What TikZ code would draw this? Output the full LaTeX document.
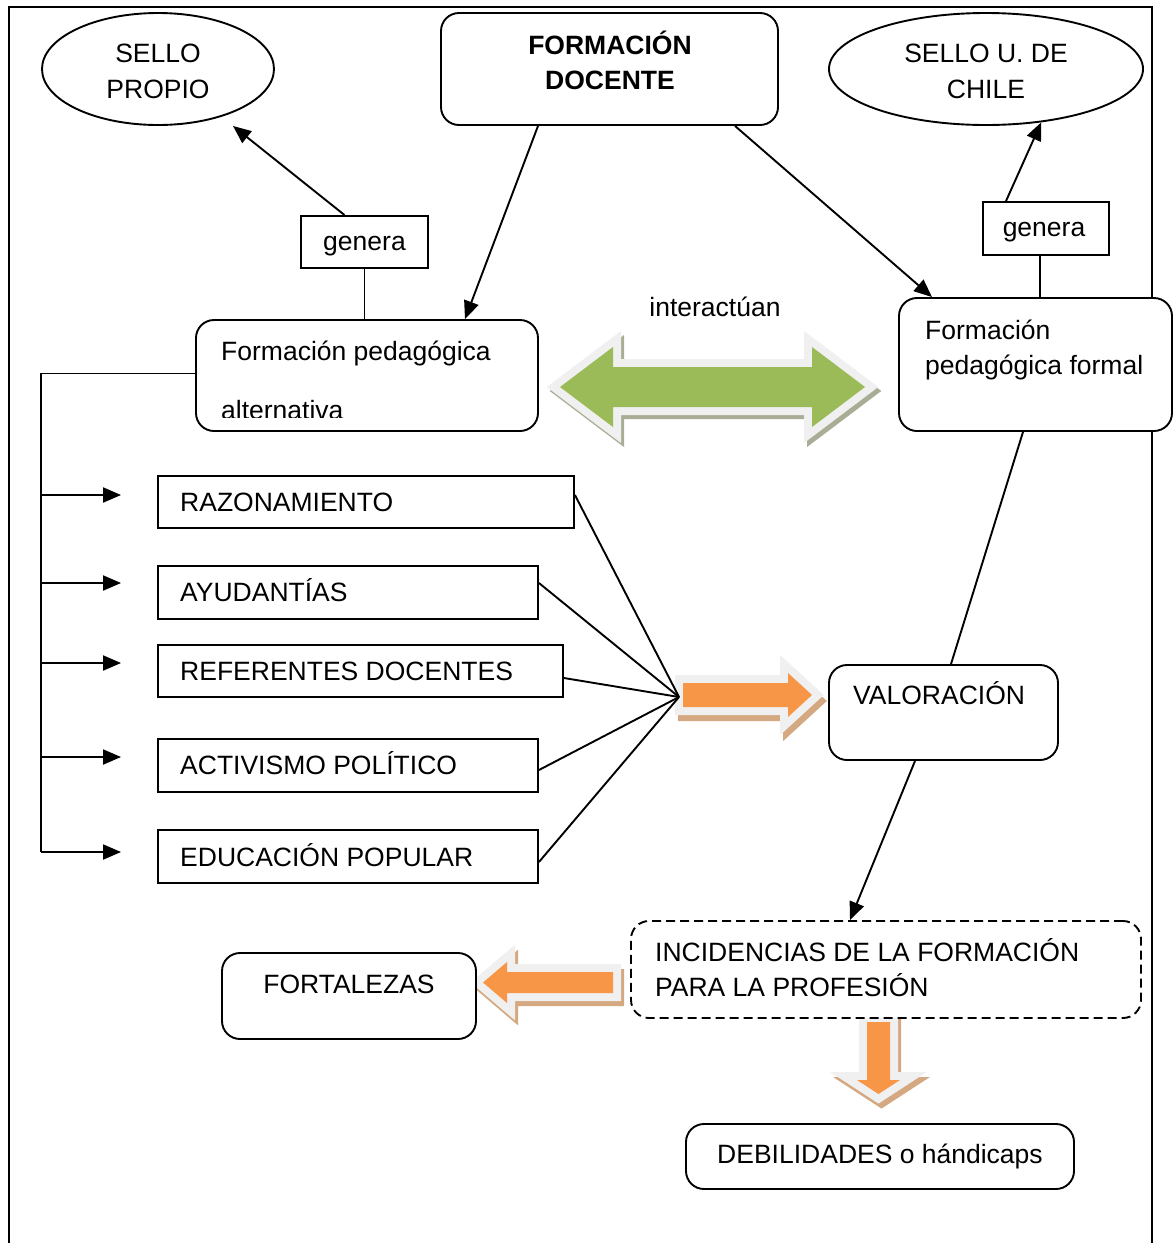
\documentclass[tikz,border=0pt]{standalone}
\usepackage{fontspec}
\setmainfont{Liberation Sans}
\usetikzlibrary{calc,shapes.geometric,arrows.meta}

\definecolor{arrgreen}{RGB}{155,187,89}
\definecolor{arrorange}{RGB}{247,150,70}
\definecolor{glow}{RGB}{240,240,240}
\definecolor{greenshadow}{RGB}{168,173,150}
\definecolor{orangeshadow}{RGB}{212,168,128}

\tikzset{
  every node/.style={font=\fontsize{26.5}{31}\selectfont, inner sep=0pt},
  rbox/.style={draw, fill=white, line width=1.9pt, rounded corners=18pt},
  sbox/.style={draw, fill=white, line width=1.9pt},
  oval/.style={draw, fill=white, ellipse, line width=1.9pt},
  link/.style={line width=1.9pt},
  arr/.style={line width=1.9pt, -{Triangle[length=18pt,width=15pt]}},
  lbl/.style={anchor=base west},
  clbl/.style={anchor=base},
  glowline/.style={line width=16pt, line join=miter, miter limit=10},
  % block arrow outlines
  greenarrow/.style={insert path={(560,387) -- (613,347) -- (613,367) -- (812,367) -- (812,347) -- (865,387) -- (812,427) -- (812,407) -- (613,407) -- (613,427) -- cycle}},
  rightarrow/.style={insert path={(683,683) -- (788,683) -- (788,673) -- (812,695) -- (788,717) -- (788,707) -- (683,707) -- cycle}},
  leftarrow/.style={insert path={(483,982.5) -- (507,962) -- (507,972) -- (613,972) -- (613,993) -- (507,993) -- (507,1003) -- cycle}},
  downarrow/.style={insert path={(867,1022) -- (890,1022) -- (890,1080) -- (900,1080) -- (878.5,1094) -- (857,1080) -- (867,1080) -- cycle}},
}

\begin{document}
\begin{tikzpicture}[x=1pt,y=-1pt]
\useasboundingbox (0,0) rectangle (1174,1243);

% outer frame, open at the bottom
\draw[line width=1.9pt] (9,1243) -- (9,7) -- (1152,7) -- (1152,1243);

% block arrows: shadow, light outline, coloured body
\filldraw[greenshadow, glowline, shift={(3,4)}, greenarrow];
\filldraw[glow, glowline, greenarrow];
\fill[arrgreen, greenarrow];

\filldraw[orangeshadow, glowline, shift={(3,6)}, rightarrow];
\filldraw[glow, glowline, rightarrow];
\fill[arrorange, rightarrow];

\filldraw[orangeshadow, glowline, shift={(3,5)}, leftarrow];
\filldraw[glow, glowline, leftarrow];
\fill[arrorange, leftarrow];

\filldraw[orangeshadow, glowline, shift={(3,5)}, downarrow];
\filldraw[glow, glowline, downarrow];
\fill[arrorange, downarrow];

% top row
\node[oval, minimum width=232pt, minimum height=112pt] (sp) at (158,69) {};
\node[clbl] (sp1) at (158,62.5) {SELLO};
\node[clbl] (sp2) at (158,98.5) {PROPIO};

\node[rbox, minimum width=337pt, minimum height=112pt] (fd) at (609.5,69) {};
\node[clbl, font=\fontsize{26.5}{31}\selectfont\bfseries] (fd1) at (610,54.5) {FORMACIÓN};
\node[clbl, font=\fontsize{26.5}{31}\selectfont\bfseries] (fd2) at (610,89.5) {DOCENTE};

\node[oval, minimum width=314pt, minimum height=112pt] (su) at (986,69) {};
\node[clbl] (su1) at (986,62.5) {SELLO U. DE};
\node[clbl] (su2) at (986,98.5) {CHILE};

% "genera" labels
\node[sbox, minimum width=127pt, minimum height=52pt] (g1) at (364.5,242) {};
\node[clbl] (g1t) at (364.5,250) {genera};
\node[sbox, minimum width=126pt, minimum height=53pt] (g2) at (1046,228.5) {};
\node[clbl] (g2t) at (1044,236) {genera};

% the two kinds of training
\node[rbox, minimum width=342pt, minimum height=111pt] (fa) at (367,375.5) {};
\node[lbl] (fa1) at (221,360) {Formación pedagógica};
\begin{scope}
  \clip (196,320) rectangle (538,417);
  \node[lbl] (fa2) at (221,419) {alternativa};
\end{scope}

\node[rbox, minimum width=273pt, minimum height=133pt] (ff) at (1035.5,364.5) {};
\node[lbl] (ff1) at (925,339.5) {Formación};
\node[lbl] (ff2) at (925,374) {pedagógica formal};

\node[clbl] (inter) at (715,316) {interactúan};

% list of practices
\node[sbox, minimum width=416pt, minimum height=52pt] (r1) at (366,502) {};
\node[lbl] (r1t) at (180,511) {RAZONAMIENTO};
\node[sbox, minimum width=380pt, minimum height=53pt] (r2) at (348,592.5) {};
\node[lbl] (r2t) at (180,601) {AYUDANTÍAS};
\node[sbox, minimum width=405pt, minimum height=52pt] (r3) at (360.5,671) {};
\node[lbl] (r3t) at (180,680) {REFERENTES DOCENTES};
\node[sbox, minimum width=380pt, minimum height=53pt] (r4) at (348,765.5) {};
\node[lbl] (r4t) at (180,774) {ACTIVISMO POLÍTICO};
\node[sbox, minimum width=380pt, minimum height=53pt] (r5) at (348,856.5) {};
\node[lbl] (r5t) at (180,866) {EDUCACIÓN POPULAR};

% assessment and outcomes
\node[rbox, minimum width=229pt, minimum height=95pt] (val) at (943.5,712.5) {};
\node[lbl] (valt) at (853,704) {VALORACIÓN};

\node[rbox, dash pattern=on 9pt off 5pt, minimum width=510pt, minimum height=97pt] (inc) at (886,969.5) {};
\node[lbl] (inc1) at (655,961) {INCIDENCIAS DE LA FORMACIÓN};
\node[lbl] (inc2) at (655,996) {PARA LA PROFESIÓN};

\node[rbox, minimum width=254pt, minimum height=86pt] (fort) at (349,996) {};
\node[clbl] (fortt) at (349,993) {FORTALEZAS};

\node[rbox, minimum width=388pt, minimum height=65pt] (deb) at (880,1156.5) {};
\node[clbl] (debt) at (880,1163) {DEBILIDADES o hándicaps};

% connectors
\draw[arr] ($(g1.north)+(-20,0)$) -- ($(sp.south)+(75,0)$);
\draw[link] (g1.south) -- (g1.south |- fa.north);
\draw[link] ($(ff.north)+(4.5,0)$) -- ($(g2.south)+(-6,0)$);
\draw[arr] ($(g2.north)+(-40,0)$) -- (su.-44);
\draw[arr] ($(fd.south)+(-71.5,0)$) -- ($(fa.north)+(98,0)$);
\draw[arr] ($(fd.south)+(125.5,0)$) -- ($(ff.north)+(-103.5,0)$);
\draw[link] ($(ff.south)+(-12.5,0)$) -- ($(val.north)+(7.5,0)$);
\draw[arr] ($(val.south)+(-28.5,0)$) -- ($(inc.north)+(-36,0)$);

% bracket feeding the list
\draw[link] ($(fa.west)+(0,-2)$) -| ($(r5.west)+(-116,-4.5)$);
\draw[arr] ($(r1.west)+(-116,-7)$) -- ++(80,0);
\draw[arr] ($(r2.west)+(-116,-9.5)$) -- ++(80,0);
\draw[arr] ($(r3.west)+(-116,-8)$) -- ++(80,0);
\draw[arr] ($(r4.west)+(-116,-8.5)$) -- ++(80,0);
\draw[arr] ($(r5.west)+(-116,-4.5)$) -- ++(80,0);

% fan converging on the assessment arrow
\coordinate (hub) at (679,697);
\draw[link] ($(r1.east)+(0,-7)$) -- (hub);
\draw[link] ($(r2.east)+(0,-9.5)$) -- (hub);
\draw[link] ($(r3.east)+(0,7)$) -- (hub);
\draw[link] ($(r4.east)+(0,4.5)$) -- (hub);
\draw[link] ($(r5.east)+(0,5.5)$) -- (hub);
\end{tikzpicture}
\end{document}
